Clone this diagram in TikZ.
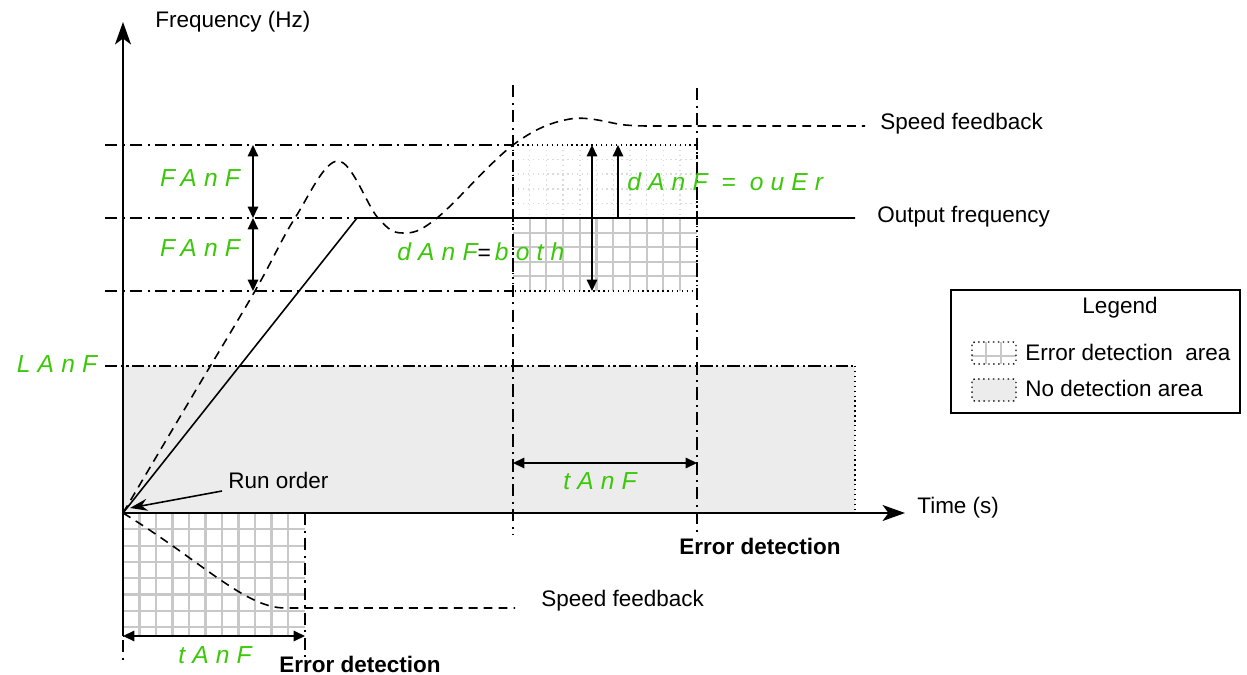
\documentclass[tikz,border=0pt]{standalone}
\usepackage{fontspec}
\setmainfont{Liberation Sans}
\newfontfamily\segfont[LetterSpace=29]{Liberation Sans}
\usepackage{xcolor}
\usetikzlibrary{arrows.meta, positioning, calc}
\definecolor{segGreen}{RGB}{60,200,10}
\definecolor{gridGray}{RGB}{200,200,200}
\definecolor{areaGray}{RGB}{236,236,236}
\newcommand{\seg}[1]{{\segfont\itshape\color{segGreen}#1}}
\tikzset{
    axis/.style={line width=1.1pt, -{Stealth[length=4.5mm, width=3.2mm, inset=1.2mm]}},
    dashdot/.style={line width=0.9pt, dash pattern=on 7pt off 3pt on 1.2pt off 3pt},
    dashdotdot/.style={line width=0.9pt, dash pattern=on 7pt off 2pt on 1.2pt off 2pt on 1.2pt off 2pt},
    feedback/.style={line width=0.9pt, dash pattern=on 5pt off 3.5pt},
    hardgrid/.style={draw=gridGray, line width=1.2pt},
    softgrid/.style={draw=gridGray!65, line width=0.8pt, dotted},
    dimarrow/.style={line width=0.8pt, {Triangle[length=6.5pt, width=6pt]}-{Triangle[length=6.5pt, width=6pt]}},
    uparrow/.style={line width=0.8pt, -{Triangle[length=6.5pt, width=6pt]}},
    boxedge/.style={line width=0.8pt, dotted}
}

\begin{document}
\begin{tikzpicture}[x=0.02cm, y=-0.02cm,
  lbl/.style={font=\fontsize{12.8}{14}\selectfont, inner sep=0pt},
  bold/.style={font=\fontsize{12.8}{14}\selectfont\bfseries, inner sep=0pt},
  seglbl/.style={font=\fontsize{14}{16}\selectfont, inner sep=0pt}]
  \useasboundingbox (0,0) rectangle (1247,675);
  \coordinate (O) at (123,513);
  \coordinate (ytop) at (123,22);
  \coordinate (xend) at (905,513);
  % no detection area
  \fill[areaGray] (123,366) rectangle (855,513);
  \draw[boxedge] (855,366) -- (855,513);
  \draw[dashdotdot] (105,366) -- (855,366);
  % error detection area, top
  \begin{scope}
    \clip (513,145) rectangle (697,291);
    \foreach \i in {1,...,10} \draw[softgrid] ({513+16.7*\i},145) -- ++(0,73);
    \foreach \j in {1,...,4} \draw[softgrid] (513,{145+14.6*\j}) -- ++(184,0);
    \foreach \i in {1,...,10} \draw[hardgrid] ({513+16.7*\i},218) -- ++(0,73);
    \foreach \j in {1,...,4} \draw[hardgrid] (513,{218+14.6*\j}) -- ++(184,0);
  \end{scope}
  \draw[boxedge] (513,145) rectangle (697,291);
  % error detection area, bottom
  \begin{scope}
    \clip (123,513) rectangle (305,636);
    \foreach \i in {1,...,10} \draw[hardgrid] ({123+16.5*\i},513) -- ++(0,123);
    \foreach \j in {1,...,7} \draw[hardgrid] (123,{513+16.3*\j}) -- ++(182,0);
  \end{scope}
  \draw[boxedge] (123,636) -- (305,636);
  \draw[line width=1.1pt] (O) -- (123,636);
  % levels
  \draw[dashdot] (105,145) -- (513,145);
  \draw[dashdot] (105,218) -- (357,218);
  \draw[dashdot] (105,291) -- (513,291);
  \draw[dashdot] (513,85) -- (513,535);
  \draw[dashdot] (697,88) -- (697,535);
  \draw[dashdot] (305,513) -- (305,660);
  \draw[dashdot] (123,640) -- (123,660);
  % curves
  \draw[line width=0.9pt] (O) -- (357,218) -- (855,218);
  \draw[feedback] plot[smooth, tension=0.6] coordinates {(123,513) (190,400) (255,291) (295,218) (338,161) (378,218) (403,233) (437,218) (513,145) (570,119) (625,125) (650,126)} -- (865,126);
  \draw[feedback] (O) .. controls (200,560) and (245,608) .. (285,608) -- (515,608);
  % axes
  \draw[axis] (O) -- (ytop);
  \draw[axis] (O) -- (xend);
  % dimensions
  \coordinate (fa) at (253,145);
  \coordinate (fb) at (253,218);
  \coordinate (fc) at (253,291);
  \draw[dimarrow] (fa) -- (fb);
  \draw[dimarrow] (fb) -- (fc);
  \coordinate (ba) at (592,145);
  \coordinate (bb) at (592,291);
  \draw[dimarrow] (ba) -- (bb);
  \coordinate (oa) at (618,218);
  \coordinate (ob) at (618,145);
  \draw[uparrow] (oa) -- (ob);
  \coordinate (ta) at (513,463);
  \coordinate (tb) at (697,463);
  \draw[dimarrow] (ta) -- (tb);
  \coordinate (tc) at (123,636);
  \coordinate (td) at (305,636);
  \draw[dimarrow] (tc) -- (td);
  % labels
  \node[lbl, anchor=west] (freq) at (155,22) {Frequency (Hz)};
  \node[lbl, anchor=west] (time) at (917,508) {Time (s)};
  \node[lbl, anchor=west] (sfb) at (880,124) {Speed feedback};
  \node[lbl, anchor=west] (outf) at (877,217) {Output frequency};
  \node[lbl, anchor=west] (sfblow) at (541,601) {Speed feedback};
  \node[lbl, anchor=west] (run) at (228,480) {Run order};
  \coordinate (runtail) at (222,491);
  \draw[line width=0.9pt, -{Stealth[length=3.5mm, width=2.4mm]}] (runtail) -- (130,508);
  \node[bold] (err) at (760,546) {Error detection};
  \node[bold] (errlow) at (360,664) {Error detection};
  \node[seglbl] (fanf) at (200,178) {\seg{FAnF}};
  \node[seglbl] (fanflow) at (200,248) {\seg{FAnF}};
  \node[seglbl] (lanf) at (57,364) {\seg{LAnF}};
  \node[seglbl, anchor=west] (over) at (627,182) {\seg{dAnF\ =\ ouEr}};
  \node[seglbl, anchor=west] (both) at (397,252) {\seg{dAnF}{\fontsize{13}{14}\selectfont=}\,\seg{both}};
  \node[seglbl] (tanf) at (600,481) {\seg{tAnF}};
  \node[seglbl] (tanflow) at (215,655) {\seg{tAnF}};
  % legend
  \draw[line width=1pt] (951,290) rectangle (1240,413);
  \node[lbl] (leg) at (1120,308) {Legend};
  \draw[hardgrid] (986,342) -- (986,364) (1001,342) -- (1001,364) (972,356) -- (1016,356);
  \draw[boxedge, rounded corners=1.5pt] (972,342) rectangle (1016,364);
  \fill[areaGray, rounded corners=1.5pt] (972,379) rectangle (1016,401);
  \draw[boxedge, rounded corners=1.5pt] (972,379) rectangle (1016,401);
  \node[lbl, anchor=west] (legerr) at (1025,352) {Error detection\ \ area};
  \node[lbl, anchor=west] (legno) at (1025,388) {No detection area};
\end{tikzpicture}
\end{document}
